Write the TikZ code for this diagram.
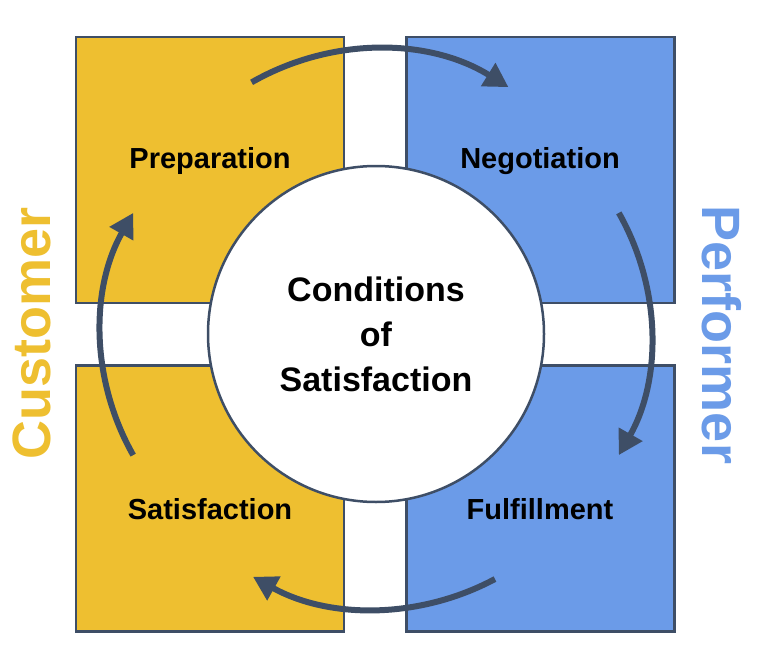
\documentclass[tikz,border=0pt]{standalone}
\usepackage{fontspec}
\setmainfont{Liberation Sans}
\usetikzlibrary{arrows.meta}
\definecolor{custyellow}{HTML}{EEBF30}
\definecolor{perfblue}{HTML}{6B9BE8}
\definecolor{edgegray}{HTML}{3E4E66}
\begin{document}
\begin{tikzpicture}[x=1pt,y=-1pt,
    quad/.style={draw=edgegray,line width=2.5pt,minimum width=268pt,minimum height=266pt,inner sep=0pt},
    phase/.style={font=\bfseries\fontsize{29}{32}\selectfont},
    cycle/.style={draw=edgegray,line width=6pt,-{Triangle[length=24pt,width=26pt]}}]
    \useasboundingbox (0,0) rectangle (768,666);

    \node[quad,fill=custyellow] (prep) at (210,170) {};
    \node[quad,fill=perfblue] (nego) at (540.5,170) {};
    \node[quad,fill=custyellow] (satf) at (210,498.5) {};
    \node[quad,fill=perfblue] (fulf) at (540.5,498.5) {};

    \node[phase] (preplabel) at (210,161) {Preparation};
    \node[phase] (negolabel) at (540,161) {Negotiation};
    \node[phase] (satflabel) at (210,509) {Satisfaction};
    \node[phase] (fulflabel) at (540,509) {Fulfillment};

    \node[circle,draw=edgegray,line width=2.5pt,fill=white,minimum size=336pt,align=center,
      font=\bfseries\fontsize{34}{45}\selectfont] (cos) at (376,334) {Conditions\\of\\Satisfaction};

    \coordinate (hub) at (376,334);
    \draw[cycle] ([shift={(-118:265 and 285)}]hub) arc[start angle=-118,end angle=-60,x radius=265,y radius=285];
    \draw[cycle] ([shift={(-28:275 and 258)}]hub) arc[start angle=-28,end angle=28,x radius=275,y radius=258];
    \draw[cycle] ([shift={(63:262 and 275)}]hub) arc[start angle=63,end angle=118,x radius=262,y radius=275];
    \draw[cycle] ([shift={(-208:275 and 258)}]hub) arc[start angle=-208,end angle=-152,x radius=275,y radius=258];

    \node[rotate=90,text=custyellow,font=\bfseries\fontsize{54}{58}\selectfont] (customer) at (32,333) {Customer};
    \node[rotate=-90,text=perfblue,font=\bfseries\fontsize{54}{58}\selectfont] (performer) at (722,335) {Performer};
\end{tikzpicture}
\end{document}
